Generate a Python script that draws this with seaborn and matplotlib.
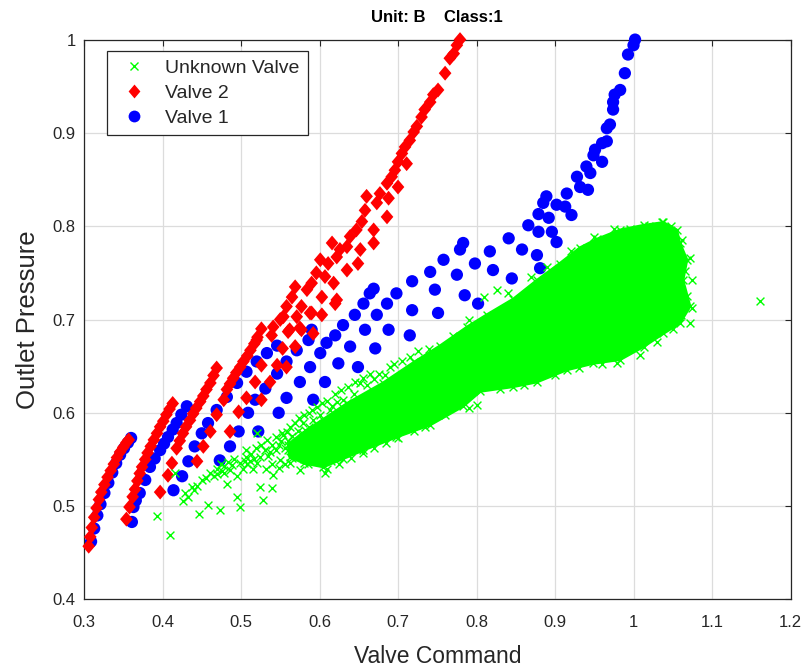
import matplotlib
matplotlib.use("Agg")
import matplotlib.pyplot as plt
from matplotlib.lines import Line2D
import pandas as pd
import seaborn as sns

# ---------------- data ----------------
x_ticks = [0.3, 0.4, 0.5, 0.6, 0.7, 0.8, 0.9, 1.0, 1.1, 1.2]
x_tick_labels = ["0.3", "0.4", "0.5", "0.6", "0.7", "0.8", "0.9", "1", "1.1", "1.2"]
y_ticks = [0.4, 0.5, 0.6, 0.7, 0.8, 0.9, 1.0]
y_tick_labels = ["0.4", "0.5", "0.6", "0.7", "0.8", "0.9", "1"]
legend_labels = ["Unknown Valve", "Valve 2", "Valve 1"]

# Valve 2 (red diamonds)
valve2_points = [
    (0.306, 0.457), (0.308, 0.467), (0.310, 0.477), (0.313, 0.488), (0.316, 0.498), (0.319, 0.507),
    (0.322, 0.515), (0.326, 0.523), (0.330, 0.531), (0.334, 0.538), (0.338, 0.545), (0.342, 0.552),
    (0.346, 0.558), (0.350, 0.563), (0.354, 0.568), (0.357, 0.571),
    (0.354, 0.486), (0.358, 0.499), (0.362, 0.510), (0.365, 0.518), (0.368, 0.527), (0.371, 0.535),
    (0.374, 0.542), (0.378, 0.550), (0.381, 0.557), (0.385, 0.564), (0.389, 0.571), (0.393, 0.578),
    (0.397, 0.585), (0.401, 0.591), (0.405, 0.598), (0.409, 0.604), (0.413, 0.610),
    (0.397, 0.515), (0.407, 0.533), (0.412, 0.546), (0.418, 0.562), (0.422, 0.570), (0.426, 0.578),
    (0.430, 0.585), (0.435, 0.592), (0.439, 0.599), (0.443, 0.605), (0.448, 0.612), (0.452, 0.618),
    (0.456, 0.625), (0.461, 0.632), (0.465, 0.640), (0.469, 0.648),
    (0.444, 0.548), (0.452, 0.564), (0.461, 0.580), (0.469, 0.598), (0.478, 0.614), (0.482, 0.625),
    (0.486, 0.631), (0.490, 0.637), (0.494, 0.643), (0.499, 0.649), (0.503, 0.655), (0.508, 0.661),
    (0.512, 0.667), (0.517, 0.674), (0.521, 0.681), (0.526, 0.690),
    (0.486, 0.580), (0.497, 0.601), (0.507, 0.616), (0.518, 0.633), (0.526, 0.651), (0.539, 0.683),
    (0.550, 0.700),
    (0.526, 0.614), (0.537, 0.633), (0.546, 0.651), (0.553, 0.669), (0.560, 0.687), (0.571, 0.703),
    (0.575, 0.691), (0.592, 0.685), (0.603, 0.705), (0.588, 0.707), (0.620, 0.717), (0.558, 0.649),
    (0.569, 0.671), (0.577, 0.689),
    (0.520, 0.678), (0.541, 0.692), (0.554, 0.703), (0.562, 0.689), (0.558, 0.714), (0.565, 0.724),
    (0.569, 0.735), (0.577, 0.714), (0.584, 0.732), (0.590, 0.739), (0.590, 0.707), (0.596, 0.750),
    (0.603, 0.724), (0.607, 0.746), (0.601, 0.764), (0.611, 0.760), (0.616, 0.782), (0.618, 0.739),
    (0.622, 0.767), (0.622, 0.721), (0.626, 0.775), (0.635, 0.778), (0.635, 0.753), (0.639, 0.789),
    (0.647, 0.796), (0.649, 0.760), (0.652, 0.775), (0.654, 0.805), (0.658, 0.817), (0.660, 0.832),
    (0.669, 0.796), (0.669, 0.782), (0.673, 0.825), (0.677, 0.835), (0.686, 0.846), (0.686, 0.810),
    (0.688, 0.830), (0.692, 0.853), (0.696, 0.860), (0.700, 0.869), (0.700, 0.842), (0.705, 0.878),
    (0.709, 0.885), (0.711, 0.867), (0.715, 0.892), (0.720, 0.901), (0.724, 0.907), (0.730, 0.917),
    (0.734, 0.925), (0.741, 0.933), (0.745, 0.941), (0.751, 0.946), (0.760, 0.964), (0.766, 0.980),
    (0.771, 0.985), (0.775, 0.994), (0.779, 1.000),
]

# Valve 1 (blue circles)
valve1_points = [
    (0.309, 0.462), (0.313, 0.476), (0.317, 0.490), (0.321, 0.502), (0.326, 0.514), (0.331, 0.525),
    (0.336, 0.536), (0.341, 0.546), (0.346, 0.555), (0.351, 0.562), (0.356, 0.568), (0.360, 0.573),
    (0.361, 0.483), (0.363, 0.499), (0.366, 0.506), (0.371, 0.514), (0.378, 0.528), (0.384, 0.542),
    (0.390, 0.551), (0.397, 0.560), (0.402, 0.567), (0.407, 0.574), (0.413, 0.582), (0.418, 0.589),
    (0.424, 0.598), (0.431, 0.607),
    (0.414, 0.517), (0.425, 0.532), (0.433, 0.548), (0.441, 0.564), (0.450, 0.578), (0.458, 0.589),
    (0.469, 0.603), (0.482, 0.617), (0.495, 0.632), (0.507, 0.644), (0.520, 0.655), (0.533, 0.664),
    (0.546, 0.672),
    (0.473, 0.549), (0.486, 0.564), (0.497, 0.580), (0.509, 0.600), (0.518, 0.614), (0.531, 0.626),
    (0.546, 0.642), (0.558, 0.655), (0.571, 0.667), (0.586, 0.678), (0.590, 0.689),
    (0.522, 0.580), (0.548, 0.600), (0.558, 0.616), (0.575, 0.633), (0.588, 0.649), (0.601, 0.664),
    (0.609, 0.675), (0.620, 0.683), (0.630, 0.694), (0.645, 0.705), (0.656, 0.717), (0.664, 0.728),
    (0.669, 0.733),
    (0.592, 0.614), (0.607, 0.633), (0.624, 0.653), (0.639, 0.671), (0.658, 0.689), (0.673, 0.705),
    (0.686, 0.717), (0.698, 0.728), (0.718, 0.741), (0.741, 0.751), (0.758, 0.764),
    (0.649, 0.649), (0.671, 0.669), (0.688, 0.689), (0.715, 0.683), (0.718, 0.710), (0.747, 0.732),
    (0.751, 0.707),
    (1.002, 1.000), (1.000, 0.994), (0.993, 0.984), (0.989, 0.964), (0.983, 0.946), (0.976, 0.941),
    (0.974, 0.933), (0.974, 0.925), (0.970, 0.909), (0.966, 0.905), (0.966, 0.891), (0.960, 0.889),
    (0.951, 0.882), (0.949, 0.876), (0.960, 0.869), (0.940, 0.864), (0.945, 0.857), (0.928, 0.853),
    (0.932, 0.842), (0.942, 0.839), (0.915, 0.835), (0.889, 0.832), (0.885, 0.825), (0.902, 0.823),
    (0.913, 0.821), (0.879, 0.813), (0.892, 0.809), (0.921, 0.812), (0.866, 0.801), (0.879, 0.794),
    (0.896, 0.794), (0.902, 0.783), (0.841, 0.787), (0.858, 0.775), (0.877, 0.769), (0.881, 0.755),
    (0.817, 0.773), (0.821, 0.753), (0.845, 0.744), (0.798, 0.760), (0.783, 0.782), (0.779, 0.775),
    (0.775, 0.748), (0.785, 0.726), (0.802, 0.717),
]

# Unknown valve (green crosses): individually visible points
unknown_points = [
    (0.393, 0.489), (0.410, 0.469), (0.416, 0.535), (0.433, 0.510), (0.437, 0.521), (0.446, 0.492),
    (0.458, 0.501), (0.473, 0.496), (0.450, 0.528), (0.465, 0.532), (0.478, 0.535), (0.486, 0.539),
    (0.482, 0.524), (0.495, 0.532), (0.499, 0.546), (0.507, 0.553), (0.495, 0.510), (0.499, 0.499),
    (0.507, 0.560), (0.520, 0.578), (0.524, 0.553), (0.524, 0.521), (0.528, 0.507), (0.539, 0.519),
    (0.537, 0.558), (0.541, 0.533), (0.550, 0.549), (0.554, 0.576), (0.567, 0.564), (0.562, 0.546),
    (0.575, 0.539), (0.579, 0.589), (0.584, 0.574), (0.588, 0.557), (0.605, 0.592), (0.613, 0.603),
    (0.630, 0.614), (0.652, 0.632), (0.690, 0.649), (0.596, 0.549), (0.639, 0.571), (0.552, 0.578),
    (0.470, 0.540), (0.474, 0.545), (0.478, 0.543), (0.483, 0.547), (0.488, 0.544), (0.491, 0.550),
    (0.476, 0.538), (0.469, 0.534), (0.503, 0.540), (0.508, 0.545), (0.512, 0.548), (0.461, 0.536),
    (0.456, 0.530), (0.444, 0.522), (0.440, 0.517), (0.429, 0.514), (0.426, 0.506), (0.517, 0.551),
    (0.515, 0.540), (0.521, 0.546), (0.530, 0.560), (0.534, 0.554), (0.545, 0.560), (0.548, 0.566),
    (0.556, 0.562), (0.560, 0.570), (0.565, 0.575), (0.570, 0.568), (0.573, 0.580), (0.578, 0.572),
    (0.582, 0.582), (0.586, 0.585), (0.590, 0.578), (0.594, 0.570), (0.598, 0.560), (0.602, 0.566),
    (0.592, 0.592), (0.600, 0.598),
    (0.505, 0.548), (0.513, 0.556), (0.519, 0.562), (0.526, 0.566), (0.533, 0.571), (0.540, 0.566),
    (0.544, 0.574), (0.551, 0.570), (0.558, 0.579), (0.563, 0.585), (0.569, 0.589), (0.574, 0.594),
    (0.580, 0.598), (0.586, 0.600), (0.590, 0.603), (0.597, 0.606), (0.603, 0.611), (0.610, 0.613),
    (0.620, 0.620), (0.628, 0.624), (0.636, 0.628), (0.645, 0.633), (0.655, 0.637), (0.664, 0.642),
    (0.573, 0.555), (0.580, 0.550), (0.585, 0.545), (0.565, 0.552), (0.556, 0.545), (0.548, 0.541),
    (0.540, 0.545), (0.532, 0.540), (0.560, 0.560), (0.577, 0.563), (0.583, 0.566), (0.590, 0.548),
    (0.600, 0.552), (0.607, 0.536), (0.615, 0.548), (0.630, 0.550),
    (0.616, 0.607), (0.622, 0.612), (0.644, 0.620), (0.660, 0.630), (0.670, 0.636), (0.676, 0.642),
    (0.684, 0.640), (0.695, 0.652), (0.705, 0.655), (0.715, 0.660), (0.725, 0.666),
    (0.610, 0.540), (0.625, 0.545), (0.640, 0.552), (0.655, 0.557), (0.670, 0.562), (0.685, 0.568),
    (0.700, 0.573), (0.720, 0.580), (0.735, 0.585), (0.760, 0.598), (0.790, 0.605), (0.800, 0.608),
    (0.830, 0.625), (0.860, 0.630), (0.900, 0.640), (0.930, 0.648), (0.960, 0.652), (0.979, 0.653),
    (1.008, 0.662), (1.030, 0.676), (1.050, 0.690), (1.072, 0.696),
    (1.074, 0.742), (1.074, 0.712), (1.072, 0.766), (1.036, 0.805), (1.062, 0.785), (1.065, 0.752),
    (1.068, 0.725), (1.060, 0.705), (1.048, 0.800), (1.020, 0.800), (0.995, 0.797),
    (0.809, 0.724), (0.826, 0.732), (0.870, 0.746), (0.770, 0.682), (0.740, 0.668), (0.790, 0.700),
    (0.840, 0.728), (0.890, 0.756), (0.920, 0.773), (0.950, 0.788), (0.975, 0.797),
    (1.161, 0.720),
]

# Unknown valve: outline of the solid, saturated core of the point cloud
unknown_core_outline = [
    (0.560, 0.566), (0.578, 0.578), (0.596, 0.588), (0.635, 0.610), (0.681, 0.632), (0.720, 0.654),
    (0.754, 0.672), (0.788, 0.692), (0.813, 0.705), (0.847, 0.722), (0.877, 0.742), (0.906, 0.760),
    (0.932, 0.777), (0.953, 0.786), (0.983, 0.796), (1.013, 0.801), (1.038, 0.804), (1.055, 0.796),
    (1.059, 0.782), (1.068, 0.764), (1.063, 0.742), (1.072, 0.714), (1.059, 0.696), (1.038, 0.685),
    (1.013, 0.671), (0.983, 0.657), (0.949, 0.653), (0.915, 0.646), (0.877, 0.633), (0.847, 0.628),
    (0.805, 0.623), (0.783, 0.607), (0.741, 0.587), (0.698, 0.574), (0.656, 0.560), (0.605, 0.542),
    (0.580, 0.546), (0.562, 0.553),
]

# ---------------- styling ----------------
sns.set_style("white")
plt.rcParams['font.family'] = ['Liberation Sans', 'DejaVu Sans']

GREEN = "#00ff00"
RED = "#ff0000"
BLUE = "#0000ff"
DARK = "#262626"
DIAMOND = [(0, 1), (0.85, 0), (0, -1), (-0.85, 0), (0, 1)]


def to_frame(points):
    xs, ys = zip(*points)
    return pd.DataFrame({"Valve Command": xs, "Outlet Pressure": ys})


d_v1 = to_frame(valve1_points)
d_v2 = to_frame(valve2_points)
d_unk = to_frame(unknown_points)
d_core = to_frame(unknown_core_outline)

fig = plt.figure(figsize=(8.08, 6.71), dpi=100)
ax = fig.add_axes([84 / 808, 1 - 599.4 / 671, (790.5 - 84) / 808, (599.4 - 39.6) / 671])

sns.scatterplot(data=d_v1, x="Valve Command", y="Outlet Pressure", ax=ax, marker="o", s=78,
                color=BLUE, edgecolor="none", linewidth=0, zorder=3, legend=False, clip_on=False)
sns.scatterplot(data=d_v2, x="Valve Command", y="Outlet Pressure", ax=ax, marker=DIAMOND, s=115,
                color=RED, edgecolor="none", linewidth=0, zorder=4, legend=False, clip_on=False)
ax.fill(d_core["Valve Command"], d_core["Outlet Pressure"], color=GREEN, lw=2, zorder=5)
sns.scatterplot(data=pd.concat([d_unk, d_core]), x="Valve Command", y="Outlet Pressure", ax=ax,
                marker="x", s=32, color=GREEN, linewidth=1.0, zorder=6, legend=False)

ax.set_xlim(0.3, 1.2)
ax.set_ylim(0.4, 1.0)
ax.set_xticks(x_ticks)
ax.set_xticklabels(x_tick_labels)
ax.set_yticks(y_ticks)
ax.set_yticklabels(y_tick_labels)
ax.tick_params(direction="in", top=True, right=True, length=4, width=0.8,
               colors=DARK, labelsize=12)
ax.tick_params(axis="x", pad=11)
ax.tick_params(axis="y", pad=6)
for sp in ax.spines.values():
    sp.set_visible(True)
    sp.set_color(DARK)
    sp.set_linewidth(0.9)
ax.grid(True, color="#dcdcdc", linewidth=0.9)
ax.set_axisbelow(True)

ax.set_xlabel("Valve Command", fontsize=16.5, color=DARK, labelpad=11)
ax.set_ylabel("Outlet Pressure", fontsize=18.5, color=DARK, labelpad=9)
ax.set_title("Unit: B    Class:1", fontsize=12, fontweight="bold", color="black", pad=13)

handles = [
    Line2D([], [], ls="none", marker="x", color=GREEN, markersize=5.5, mew=1),
    Line2D([], [], ls="none", marker=DIAMOND, color=RED, markersize=10, mec="none"),
    Line2D([], [], ls="none", marker="o", color=BLUE, markersize=8.5, mec="none"),
]
leg = ax.legend(handles, legend_labels, loc="upper left", bbox_to_anchor=(0.032, 0.980),
                borderaxespad=0, frameon=True, fancybox=False, edgecolor=DARK, framealpha=1,
                fontsize=14, handlelength=2.0, handletextpad=0.6, labelspacing=0.38,
                borderpad=0.42)
leg.get_frame().set_linewidth(0.9)
for t in leg.get_texts():
    t.set_color(DARK)

fig.savefig("out.png", dpi=100)
